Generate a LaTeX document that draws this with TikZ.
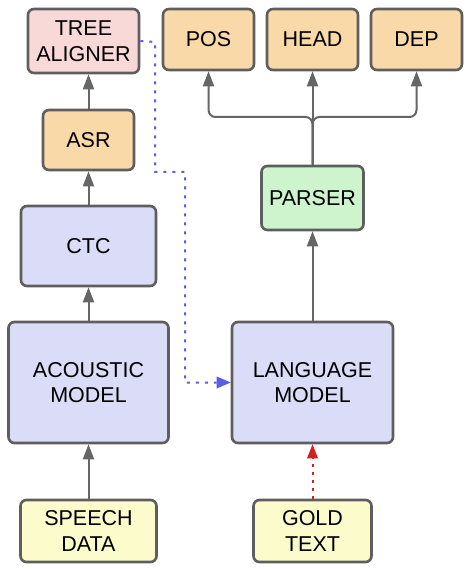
\documentclass[tikz,border=0pt]{standalone}
\usepackage{fontspec}
\setmainfont{Liberation Sans}
\usetikzlibrary{arrows.meta}
\definecolor{bordc}{HTML}{5E5E5E}
\definecolor{arrc}{HTML}{666666}
\definecolor{pinkc}{HTML}{F9D9D8}
\definecolor{orangec}{HTML}{FAD9A9}
\definecolor{bluec}{HTML}{DADCF8}
\definecolor{greenc}{HTML}{CDF4CD}
\definecolor{yellowc}{HTML}{FBFBCB}
\definecolor{dotblue}{HTML}{5C5CE6}
\definecolor{dotred}{HTML}{D42020}
\tikzset{
  box/.style={draw=bordc, line width=2.6pt, rounded corners=6pt, align=center,
    inner sep=0pt, text=black, font=\fontsize{21.5}{25.5}\selectfont},
  arr/.style={draw=arrc, line width=2pt, -{Triangle[length=15pt,width=11pt]}},
  bluearr/.style={draw=dotblue, line width=2pt, dash pattern=on 3pt off 6pt,
    -{Triangle[length=14pt,width=12pt,fill=dotblue,line width=0pt]}},
  redarr/.style={draw=dotred, line width=2pt, dash pattern=on 3pt off 5pt,
    -{Triangle[length=14pt,width=11pt,fill=dotred,line width=0pt]}}
}
\begin{document}
\begin{tikzpicture}[x=1pt,y=-1pt]
\useasboundingbox (0,0) rectangle (466,569);
\node[box, fill=pinkc, minimum width=111pt, minimum height=64pt] (tree) at (83.5,41) {TREE\\ALIGNER};
\node[box, fill=orangec, minimum width=91pt, minimum height=60pt] (asr) at (88.5,140) {ASR};
\node[box, fill=bluec, minimum width=135pt, minimum height=80pt] (ctc) at (88.5,246) {CTC};
\node[box, fill=bluec, minimum width=160pt, minimum height=121pt] (ac) at (88.5,382.5) {ACOUSTIC\\MODEL};
\node[box, fill=bluec, minimum width=161pt, minimum height=121pt] (lm) at (312.5,382.5) {LANGUAGE\\MODEL};
\node[box, fill=yellowc, minimum width=136pt, minimum height=62pt] (sp) at (88.5,531) {SPEECH\\DATA};
\node[box, fill=yellowc, minimum width=118pt, minimum height=62pt] (gold) at (312.5,531) {GOLD\\TEXT};
\node[box, fill=orangec, minimum width=91pt, minimum height=61pt] (pos) at (208.5,39.5) {POS};
\node[box, fill=orangec, minimum width=91pt, minimum height=61pt] (head) at (312.5,39.5) {HEAD};
\node[box, fill=orangec, minimum width=91pt, minimum height=61pt] (dep) at (416.5,39.5) {DEP};
\node[box, fill=greenc, minimum width=102pt, minimum height=64pt] (parser) at (312.5,198) {PARSER};

\coordinate (br) at (312.5,117);
\coordinate (b1) at (155,42);
\coordinate (b2) at (155,172);
\coordinate (b3) at (185,172);
\coordinate (b4) at (185,382.5);

\draw[arr] (sp.north) -- (ac.south);
\draw[arr] (ac.north) -- (ctc.south);
\draw[arr] (ctc.north) -- (asr.south);
\draw[arr] (asr.north) -- (asr.north |- tree.south);
\draw[arr] (lm.north) -- (parser.south);
\draw[arr] (parser.north) -- (head.south);
\draw[arr, rounded corners=7pt] (parser.north) -- (br) -| (pos.south);
\draw[arr, rounded corners=7pt] (parser.north) -- (br) -| (dep.south);
\draw[bluearr] (tree.east) -- (b1) -- (b2) -- (b3) -- (b4) -- (lm.west);
\draw[redarr] (gold.north) -- (lm.south);
\end{tikzpicture}
\end{document}
